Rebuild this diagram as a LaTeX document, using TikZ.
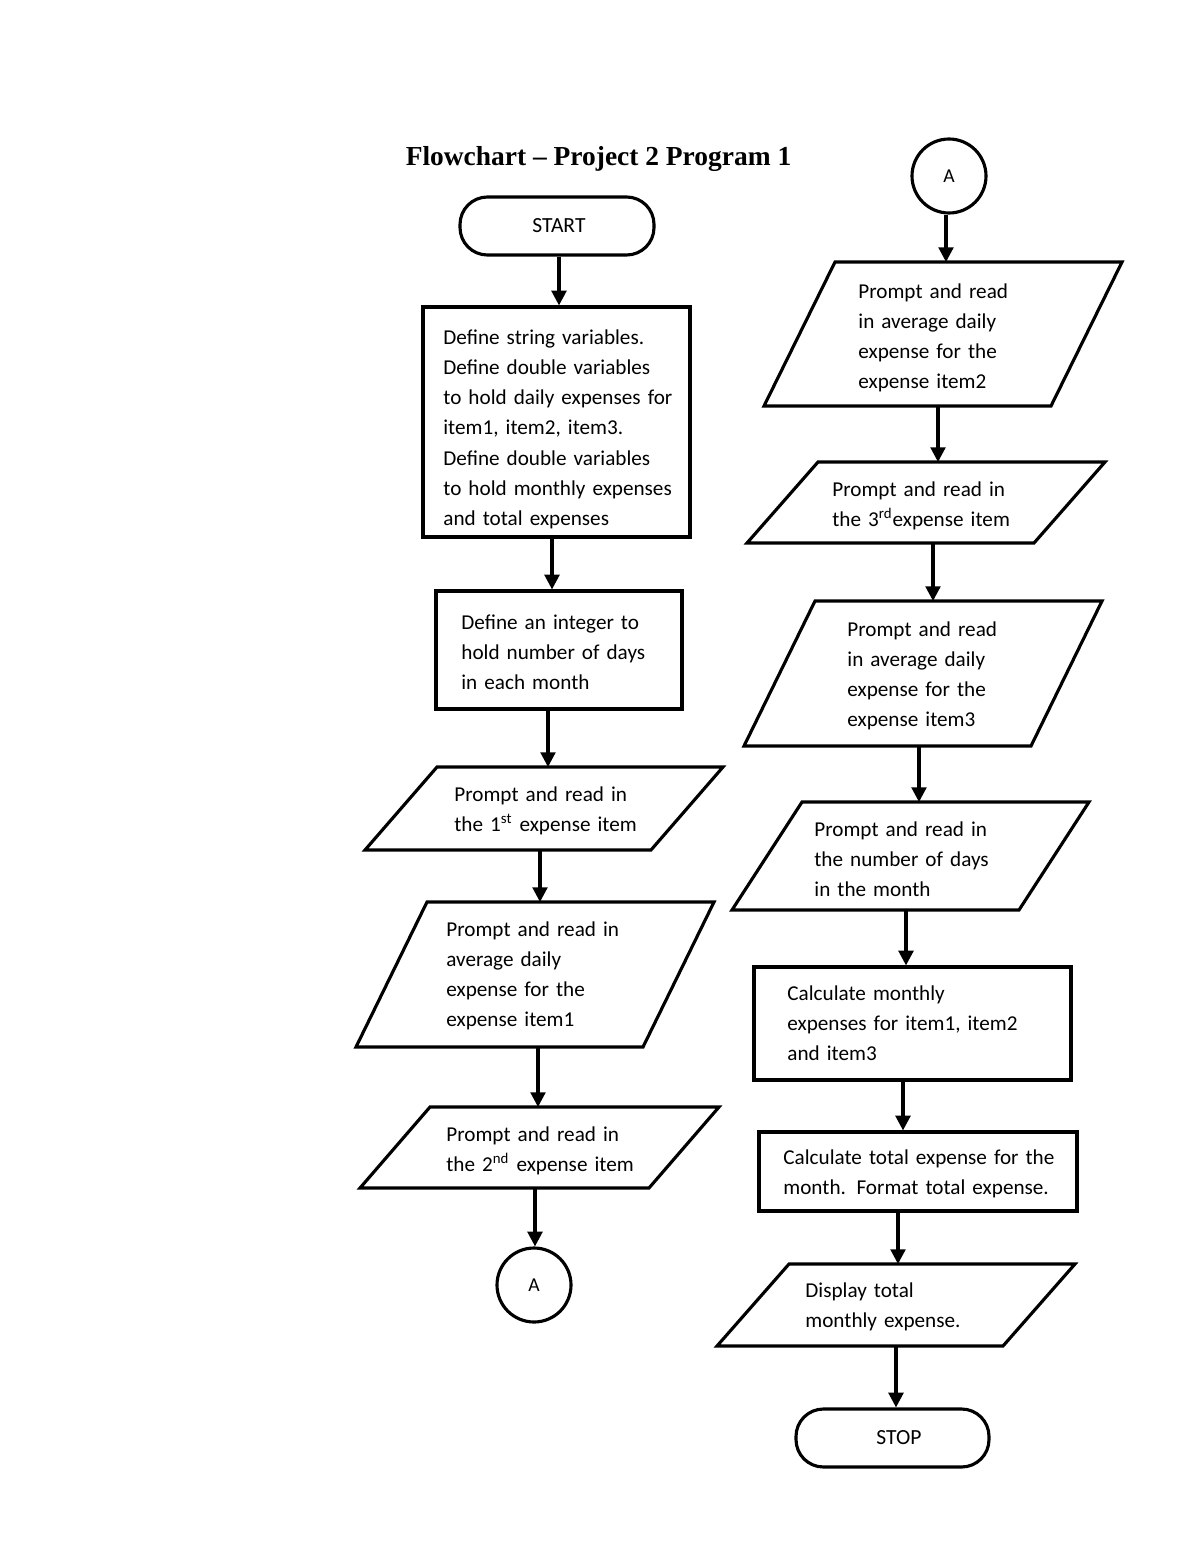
\documentclass[tikz,border=0pt]{standalone}
\usepackage{fontspec}
\setmainfont{Carlito}
\newfontfamily\titlefont{Liberation Serif}
\usetikzlibrary{arrows.meta}
\newcommand\pxu{0.51pt}
\newcommand\drawpara[2]{\draw[shp] ([xshift=#2*\pxu]#1.north west) -- (#1.north east) -- ([xshift=-#2*\pxu]#1.south east) -- (#1.south west) -- cycle;}
\tikzset{
  shp/.style={line width=1.6pt, line join=miter},
  boxnode/.style={draw, shp, rectangle, inner sep=0pt},
  frame/.style={rectangle, inner sep=0pt, outer sep=0pt},
  term/.style={draw, shp, rectangle, rounded corners=14pt, inner sep=0pt, minimum width=194*\pxu, minimum height=58*\pxu, font=\fontsize{11}{13}\selectfont},
  conn/.style={draw, shp, circle, inner sep=0pt, minimum size=74*\pxu, font=\fontsize{10}{12}\selectfont},
  txt/.style={anchor=base west, inner sep=0pt, align=left, text width=320*\pxu, font=\fontsize{10.8}{15.45}\selectfont},
  arr/.style={line width=1.6pt, -{Triangle[length=7.5pt,width=7.5pt]}},
}
\begin{document}
\begin{tikzpicture}[x=0.51pt, y=-0.51pt]
\useasboundingbox[fill=white] (0,0) rectangle (1200,1553);

\node[font=\titlefont\bfseries\fontsize{14}{16}\selectfont, anchor=base, inner sep=0pt] (title) at (598.5,166) {Flowchart – Project 2 Program 1};

% ---------- left column ----------
\node[term] (start) at (557,226) {\hspace*{2pt}START};
\node[boxnode, minimum width=267*\pxu, minimum height=230*\pxu] (b1) at (556.5,422) {};
\node[txt] (t1) at (443,344) {Define string variables.\\Define double variables\\to hold daily expenses for\\item1, item2, item3.\\Define double variables\\to hold monthly expenses\\and total expenses};
\node[boxnode, minimum width=246*\pxu, minimum height=118*\pxu] (b2) at (559,650) {};
\node[txt] (t2) at (461,629) {Define an integer to\\hold number of days\\in each month};
\node[frame, minimum width=358*\pxu, minimum height=83*\pxu] (p1) at (544,808.5) {};
\drawpara{p1}{72}
\node[txt] (tp1) at (454,801) {Prompt and read in\\the 1\textsuperscript{st} expense item};
\node[frame, minimum width=358*\pxu, minimum height=145*\pxu] (p2) at (535,974.5) {};
\drawpara{p2}{71}
\node[txt] (tp2) at (446,936) {Prompt and read in\\average daily\\expense for the\\expense item1};
\node[frame, minimum width=359*\pxu, minimum height=81*\pxu] (p3) at (539.5,1147.5) {};
\drawpara{p3}{70}
\node[txt] (tp3) at (446,1141) {Prompt and read in\\the 2\textsuperscript{nd} expense item};
\node[conn] (a1) at (534,1285) {A};

% ---------- right column ----------
\node[conn] (a2) at (949,176) {A};
\node[frame, minimum width=358*\pxu, minimum height=144*\pxu] (p4) at (943,334) {};
\drawpara{p4}{71}
\node[txt] (tp4) at (858,298) {Prompt and read\\in average daily\\expense for the\\expense item2};
\node[frame, minimum width=358*\pxu, minimum height=81*\pxu] (p5) at (926,502.5) {};
\drawpara{p5}{71}
\node[txt] (tp5) at (832,496) {Prompt and read in\\the 3\textsuperscript{rd}expense item};
\node[frame, minimum width=358*\pxu, minimum height=145*\pxu] (p6) at (923,673.5) {};
\drawpara{p6}{71}
\node[txt] (tp6) at (847,636) {Prompt and read\\in average daily\\expense for the\\expense item3};
\node[frame, minimum width=357*\pxu, minimum height=108*\pxu] (p7) at (910.5,856) {};
\drawpara{p7}{70}
\node[txt] (tp7) at (814,836) {Prompt and read in\\the number of days\\in the month};
\node[boxnode, minimum width=317*\pxu, minimum height=113*\pxu] (b3) at (912.5,1023.5) {};
\node[txt] (t3) at (787,1000) {Calculate monthly\\expenses for item1, item2\\and item3};
\node[boxnode, minimum width=318*\pxu, minimum height=79*\pxu] (b4) at (918,1171.5) {};
\node[txt] (t4) at (783,1164) {Calculate total expense for the\\month. Format total expense.};
\node[frame, minimum width=358*\pxu, minimum height=82*\pxu] (p8) at (896,1305) {};
\drawpara{p8}{72}
\node[txt] (tp8) at (805,1297) {Display total\\monthly expense.};
\node[term, minimum width=193*\pxu] (stop) at (892.5,1438) {\hspace*{6.6pt}STOP};

% ---------- connectors ----------
\draw[arr] (start.south -| 559,0) -- (b1.north -| 559,0);
\draw[arr] (b1.south -| 552,0) -- (b2.north -| 552,0);
\draw[arr] (b2.south -| 548,0) -- (p1.north -| 548,0);
\draw[arr] (p1.south -| 540,0) -- (p2.north -| 540,0);
\draw[arr] (p2.south -| 538,0) -- (p3.north -| 538,0);
\draw[arr] (p3.south -| 535,0) -- (a1.north -| 535,0);

\draw[arr] (a2.south -| 946,0) -- (p4.north -| 946,0);
\draw[arr] (p4.south -| 938,0) -- (p5.north -| 938,0);
\draw[arr] (p5.south -| 933,0) -- (p6.north -| 933,0);
\draw[arr] (p6.south -| 919,0) -- (p7.north -| 919,0);
\draw[arr] (p7.south -| 906,0) -- (b3.north -| 906,0);
\draw[arr] (b3.south -| 903,0) -- (b4.north -| 903,0);
\draw[arr] (b4.south -| 898,0) -- (p8.north -| 898,0);
\draw[arr] (p8.south -| 896,0) -- (stop.north -| 896,0);
\end{tikzpicture}
\end{document}
